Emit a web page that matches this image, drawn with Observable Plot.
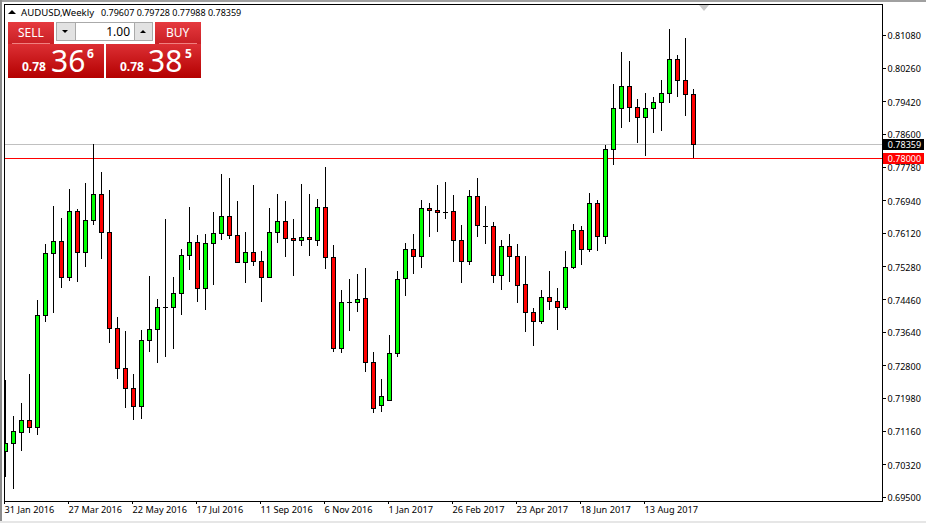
<!DOCTYPE html>
<html>
<head>
<meta charset="utf-8">
<script src="https://cdn.jsdelivr.net/npm/d3@7"></script>
<script src="https://cdn.jsdelivr.net/npm/@observablehq/plot@0.6"></script>
<style>
html,body{margin:0;padding:0;background:#fff;overflow:hidden}
#wrap{position:relative;width:926px;height:523px;overflow:hidden;font-family:"Noto Sans",sans-serif;color:#000}
#wrap svg{display:block;position:absolute;left:0;top:0;background:transparent}
.a{position:absolute;white-space:nowrap;line-height:1}
.btn{background:linear-gradient(#e63a3f,#c81f24)}
.low{background:linear-gradient(#dc2f34,#b40000)}
.w{color:#fff}
</style>
</head>
<body>
<div id="wrap"></div>
<script>
const opens=[.7065,.7085,.7113,.7143,.7125,.7406,.7561,.7591,.7501,.7666,.7564,.7644,.7709,.7614,.7374,.7273,.7223,.7178,.7343,.7371,.7427,.7426,.7461,.7556,.7589,.7474,.7586,.7611,.7654,.7606,.7539,.7564,.7541,.7501,.7614,.7641,.7599,.7594,.7601,.7594,.7676,.7551,.7323,.7440,.7439,.7449,.7288,.7180,.7193,.7310,.7499,.7571,.7554,.7674,.7669,.7665,.7666,.7594,.7541,.7704,.7630,.7629,.7506,.7579,.7554,.7484,.7414,.7391,.7451,.7441,.7426,.7526,.7619,.7571,.7686,.7604,.7822,.7925,.7980,.7927,.7902,.7925,.7940,.7962,.8047,.7995,.7961];
const highs=[.7243,.7153,.7185,.7258,.7444,.7584,.7679,.7649,.7722,.7671,.7737,.7835,.7765,.7719,.7401,.7365,.7258,.7368,.7504,.7446,.7646,.7501,.7571,.7676,.7606,.7609,.7664,.7760,.7750,.7691,.7614,.7732,.7566,.7674,.7709,.7691,.7646,.7735,.7709,.7696,.7778,.7581,.7469,.7496,.7509,.7524,.7313,.7245,.7355,.7516,.7586,.7609,.7694,.7686,.7732,.7740,.7707,.7631,.7719,.7750,.7679,.7639,.7594,.7609,.7584,.7554,.7424,.7469,.7516,.7474,.7566,.7634,.7629,.7712,.7694,.7832,.7985,.8065,.8042,.7947,.7962,.7952,.7995,.8123,.8057,.8100,.7972];
const lows=[.7000,.6970,.7065,.7110,.7105,.7389,.7411,.7474,.7491,.7489,.7526,.7631,.7546,.7335,.7245,.7173,.7143,.7145,.7313,.7285,.7300,.7320,.7406,.7519,.7439,.7419,.7481,.7594,.7596,.7536,.7486,.7529,.7439,.7500,.7586,.7551,.7504,.7579,.7554,.7579,.7521,.7313,.7310,.7365,.7414,.7263,.7160,.7163,.7192,.7300,.7454,.7509,.7524,.7601,.7614,.7646,.7539,.7486,.7531,.7601,.7584,.7486,.7469,.7489,.7436,.7363,.7328,.7384,.7419,.7368,.7419,.7521,.7531,.7564,.7566,.7584,.7782,.7875,.7890,.7837,.7805,.7862,.7867,.7937,.7952,.7905,.7799];
const closes=[.7085,.7115,.7143,.7125,.7406,.7561,.7591,.7501,.7666,.7564,.7644,.7709,.7614,.7374,.7273,.7223,.7178,.7343,.7371,.7426,.7426,.7461,.7556,.7589,.7474,.7586,.7611,.7654,.7606,.7539,.7564,.7541,.7501,.7614,.7641,.7599,.7594,.7601,.7596,.7676,.7551,.7323,.7439,.7439,.7446,.7288,.7173,.7203,.7310,.7496,.7571,.7554,.7674,.7669,.7664,.7664,.7594,.7541,.7704,.7631,.7629,.7506,.7579,.7554,.7481,.7414,.7391,.7451,.7441,.7426,.7526,.7619,.7571,.7686,.7604,.7822,.7925,.7980,.7927,.7902,.7925,.7940,.7962,.8047,.7995,.7960,.7836];
const dateLabels=["31 Jan 2016","27 Mar 2016","22 May 2016","17 Jul 2016","11 Sep 2016","6 Nov 2016","1 Jan 2017","26 Feb 2017","23 Apr 2017","18 Jun 2017","13 Aug 2017"];
const priceTicks=[.8108,.8026,.7942,.786,.7778,.7694,.7612,.7528,.7446,.7364,.728,.7198,.7116,.7032,.695];
const bidPrice=.78359;
const levelPrice=.78;
const weeksPerLabel=8;

const candles=opens.map((o,i)=>({i,o,h:highs[i],l:lows[i],c:closes[i]}));
const up=candles.filter(d=>d.c>=d.o);
const down=candles.filter(d=>d.c<d.o);
const tickIdx=dateLabels.map((_,k)=>k*weeksPerLabel);
const xMin=-0.125,xMax=109.625;
const FONT='"Noto Sans",sans-serif';

const body=(data,fill)=>Plot.rect(data,{x1:d=>d.i-.25,x2:d=>d.i+.25,y1:"o",y2:"c",fill,stroke:"#000",strokeWidth:1,dx:.5,dy:.5,clip:true,shapeRendering:"crispEdges"});
const tag=(p,bg)=>[
  Plot.ruleY([p],{x1:xMax+.12,x2:xMax+5.25,stroke:bg,strokeWidth:11,shapeRendering:"crispEdges"}),
  Plot.text([p],{x:xMax+.66,y:d=>d,dy:1,text:d=>d.toFixed(5),fill:"#fff",textAnchor:"start",fontSize:9,fontFamily:FONT})
];

const chart=Plot.plot({
  width:926,height:523,
  marginLeft:4,marginRight:44,marginTop:4,marginBottom:22,
  style:{fontFamily:FONT,background:"transparent"},
  x:{type:"linear",domain:[xMin,xMax],range:[4,882]},
  y:{type:"linear",domain:[.694,.81857],range:[501,4]},
  marks:[
    Plot.ruleY([bidPrice],{stroke:"#c0c0c0",strokeWidth:1,shapeRendering:"crispEdges"}),
    Plot.ruleY([levelPrice],{stroke:"#ff0000",strokeWidth:1,shapeRendering:"crispEdges"}),
    Plot.ruleX(candles,{x:"i",y1:"l",y2:"h",stroke:"#000",strokeWidth:1,clip:true,shapeRendering:"crispEdges"}),
    body(up,"#00ff00"),
    body(down,"#ff0000"),
    Plot.frame({stroke:"#000",strokeWidth:1,shapeRendering:"crispEdges"}),
    Plot.axisX({anchor:"bottom",ticks:tickIdx,tickFormat:i=>dateLabels[i/weeksPerLabel],tickSize:3,tickPadding:2,textAnchor:"start",dx:-1,fontSize:9.2,fontFamily:FONT,color:"#000",label:null,lineAnchor:"top",shapeRendering:"crispEdges"}),
    Plot.axisY({anchor:"right",ticks:priceTicks,tickFormat:()=>"",tickSize:3,label:null,color:"#000",shapeRendering:"crispEdges"}),
    Plot.axisY({anchor:"right",ticks:priceTicks,tickFormat:d3.format(".5f"),tickSize:0,tickPadding:5,dy:1,fontSize:9,fontFamily:FONT,color:"#000",label:null}),
    ...tag(bidPrice,"#000"),
    ...tag(levelPrice,"#ff0000")
  ]
});
const wrap=document.getElementById("wrap");
wrap.appendChild(chart);

function box(l,t,w,h,cls,css,text){
  const e=document.createElement("div");
  e.className="a "+(cls||"");
  e.style.cssText=`left:${l}px;top:${t}px;`+(w?`width:${w}px;`:"")+(h?`height:${h}px;`:"")+(css||"");
  if(text!=null)e.textContent=text;
  wrap.appendChild(e);
  return e;
}
// window edges
box(0,0,926,1.5,"","background:#a0a0a0");
box(0,0,2,523,"","background:#8c8c8c");
box(0,521,926,2,"","background:#e6e6e6");
// shift marker
box(699,5,0,0,"","border-left:5px solid transparent;border-right:5px solid transparent;border-top:6px solid #c8c8c8");
// header
box(8,10,0,0,"","border-left:4px solid transparent;border-right:4px solid transparent;border-bottom:4px solid #000");
box(21,7,null,null,"","font-size:9.6px;line-height:11px","AUDUSD,Weekly");
box(101,7,null,null,"","font-size:9px;line-height:11px","0.79607 0.79728 0.77988 0.78359");
// trade panel
box(8,22,46,22,"btn","");
box(8,44,96,34,"low","");
box(106,44,95,34,"low","");
box(155,22,46,22,"btn","");
box(12,43,38,1,"","background:#f08080");
box(159,43,38,1,"","background:#f08080");
box(18,26,null,null,"w","font-size:12px;line-height:14px","SELL");
box(166,26,null,null,"w","font-size:12px;line-height:14px","BUY");
box(56,22,97,19,"","background:#fff;border:1px solid #aaa;box-sizing:border-box");
box(57,23,19,17,"","background:#e2e2e2;border-right:1px solid #aaa;box-sizing:border-box");
box(134,23,18,17,"","background:#e2e2e2;border-left:1px solid #aaa;box-sizing:border-box");
box(62,30,0,0,"","border-left:3px solid transparent;border-right:3px solid transparent;border-top:3px solid #000");
box(140,30,0,0,"","border-left:3px solid transparent;border-right:3px solid transparent;border-bottom:3px solid #000");
box(100,25,null,null,"","font-size:12px;line-height:14px;width:30px;text-align:right","1.00");
box(22,60,null,null,"w","font-size:12px;font-weight:bold;line-height:14px","0.78");
box(51,43,null,null,"w","font-size:30px;line-height:36px","36");
box(87,47,null,null,"w","font-size:12px;font-weight:bold;line-height:14px","6");
box(120,60,null,null,"w","font-size:12px;font-weight:bold;line-height:14px","0.78");
box(148,43,null,null,"w","font-size:30px;line-height:36px","38");
box(185,47,null,null,"w","font-size:12px;font-weight:bold;line-height:14px","5");
</script>
</body>
</html>
